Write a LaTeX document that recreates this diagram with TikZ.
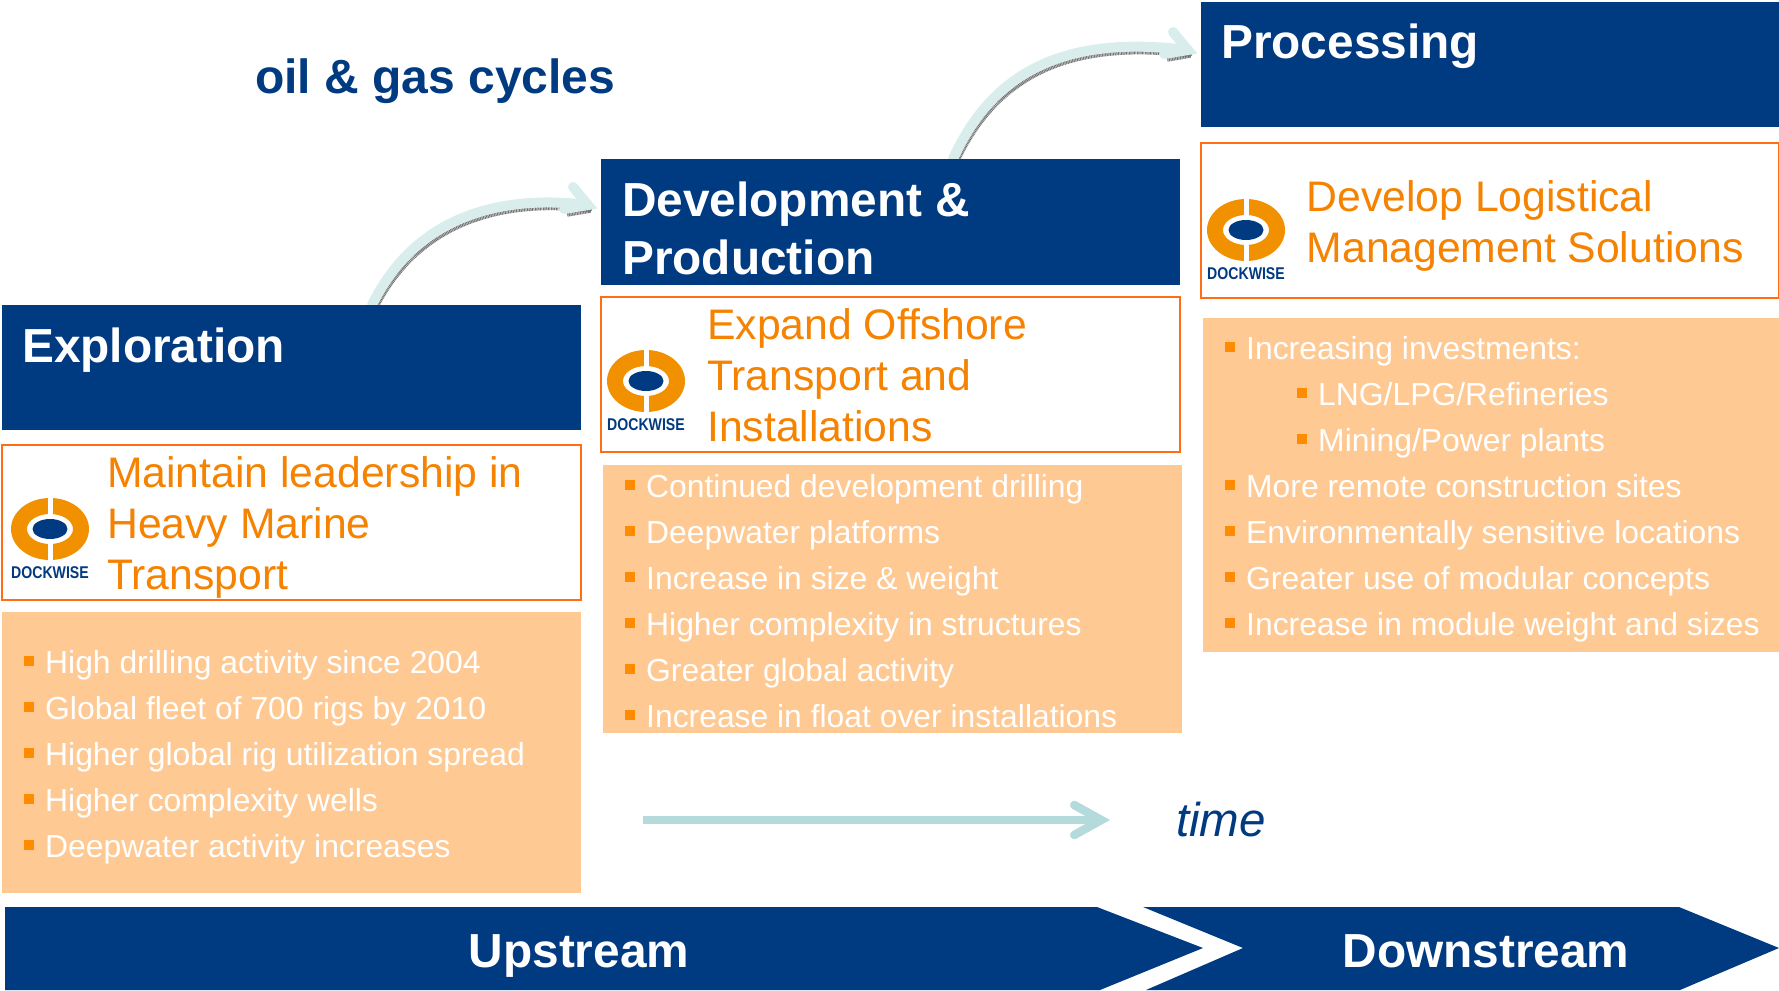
\documentclass[tikz,border=0pt]{standalone}
\usepackage{fontspec}
\setmainfont{Liberation Sans}
\usetikzlibrary{arrows.meta,calc}
\definecolor{navy}{HTML}{003A80}
\definecolor{peach}{HTML}{FFC993}
\definecolor{outl}{HTML}{FF6E14}
\definecolor{orangetxt}{HTML}{F58200}
\definecolor{bul}{HTML}{FF8C00}
\definecolor{teal1}{HTML}{DAEDED}
\definecolor{teal2}{HTML}{B5DADB}
\definecolor{ringc}{HTML}{F29100}
\newcommand{\bul}{\makebox[21pt][l]{\textcolor{bul}{\raisebox{7pt}{\rule{10pt}{10pt}}}}}
\newcommand{\stepcurve}[6]{
  \draw[curveback] ([shift={(3,6)}]#1) .. controls +(#3) and +(#4) .. ([shift={(3,6)}]#2);
  \draw[curveback,line join=miter] ([shift={(3,6)}]#2)+(#5) -- ([shift={(3,6)}]#2) -- +(#6);
  \draw[curvefront] (#1) .. controls +(#3) and +(#4) .. (#2);
  \draw[curvefront,line join=miter] ($(#2)+(#5)$) -- (#2) -- +(#6);
}
\tikzset{
  headbox/.style={fill=navy,inner sep=0pt},
  headtext/.style={anchor=base west,inner sep=0pt,text=white,align=left,font=\fontsize{47.8}{58}\selectfont\bfseries},
  goaltext/.style={anchor=base west,inner sep=0pt,text=orangetxt,align=left,font=\fontsize{42.7}{51}\selectfont},
  goalbox/.style={draw=outl,line width=2pt,fill=white,inner sep=0pt},
  listbox/.style={fill=peach,inner sep=0pt},
  listline/.style={anchor=base west,inner sep=0pt,text=white,font=\fontsize{31.85}{46}\selectfont},
  flowtext/.style={anchor=base,inner sep=0pt,text=white,font=\fontsize{47.8}{58}\selectfont\bfseries},
  curvefront/.style={draw=teal1,line width=10pt,line cap=round},
  curveback/.style={draw=black!55,line width=3.5pt,dash pattern=on 1pt off .6pt},
  dockwise/.pic={
    \fill[ringc,even odd rule] (0,0) circle [x radius=39,y radius=31] (0,0) circle [x radius=23,y radius=15];
    \fill[white] (-2.5,-32) rectangle (2.5,-13);
    \fill[white] (-2.5,13) rectangle (2.5,32);
    \fill[navy] (0,0) circle [x radius=17.5,y radius=10];
    \node[inner sep=0pt,text=navy,xscale=.83,font=\fontsize{17}{17}\selectfont\bfseries] (word) at (0,44) {DOCKWISE};
  }
}
\begin{document}
\begin{tikzpicture}[x=1pt,y=-1pt]
\useasboundingbox (0,0) rectangle (1779,990);

\coordinate (explOut) at (372,305);
\coordinate (devIn) at (588,205);
\coordinate (devOut) at (953,159);
\coordinate (procIn) at (1188,50);

\stepcurve{explOut}{devIn}{40,-82}{-98,-12}{-15,-18}{-24,4}
\stepcurve{devOut}{procIn}{47,-104}{-100,-12}{-15,-18}{-24,4}

\node[headbox,minimum width=579pt,minimum height=125pt] (explHead) at (291.5,367.5) {};
\node[headbox,minimum width=579pt,minimum height=126pt] (devHead) at (890.5,222) {};
\node[headbox,minimum width=578pt,minimum height=125pt] (procHead) at (1490,64.5) {};

\node[headtext] (explTitle) at (22,362) {Exploration};
\node[headtext] (devTitle) at (622,274.5) {Development \&\\Production};
\node[headtext] (procTitle) at (1221,59) {Processing};

\node[goalbox,minimum width=579pt,minimum height=155pt] (explGoal) at (291.5,522.5) {};
\node[goalbox,minimum width=579pt,minimum height=155pt] (devGoal) at (890.5,374.5) {};
\node[goalbox,minimum width=578pt,minimum height=155pt] (procGoal) at (1490,220.5) {};

\pic (explLogo) at (50,529) {dockwise};
\pic (devLogo) at (646,381) {dockwise};
\pic (procLogo) at (1246,230) {dockwise};

\node[goaltext] (explText) at (107,589) {Maintain leadership in\\Heavy Marine\\Transport};
\node[goaltext] (devText) at (707,441.5) {Expand Offshore\\Transport and\\Installations};
\node[goaltext] (procText) at (1306.5,262) {Develop Logistical\\Management Solutions};

\node[listbox,minimum width=579pt,minimum height=281pt] (explList) at (291.5,752.5) {};
\node[listbox,minimum width=579pt,minimum height=268pt] (devList) at (892.5,599) {};
\node[listbox,minimum width=576pt,minimum height=334pt] (procList) at (1491,485) {};

\foreach \i/\y/\txt in {1/673/High drilling activity since 2004,2/719/Global fleet of 700 rigs by 2010,3/765/Higher global rig utilization spread,4/811/Higher complexity wells,5/857/Deepwater activity increases}
  \node[listline] (explLine\i) at (24,\y) {\bul\txt};

\foreach \i/\y/\txt in {1/497/Continued development drilling,2/543/Deepwater platforms,3/589/Increase in size \& weight,4/635/Higher complexity in structures,5/681/Greater global activity,6/727/Increase in float over installations}
  \node[listline] (devLine\i) at (625,\y) {\bul\txt};

\foreach \i/\y/\txt in {1/359/Increasing investments:,4/497/More remote construction sites,5/543/Environmentally sensitive locations,6/589/Greater use of modular concepts,7/635/Increase in module weight and sizes}
  \node[listline] (procLine\i) at (1225,\y) {\bul\txt};
\foreach \i/\y/\txt in {2/405/{LNG/LPG/Refineries},3/451/{Mining/Power plants}}
  \node[listline] (procLine\i) at (1297,\y) {\bul\txt};

\node[inner sep=0pt,anchor=base west,text=navy,font=\fontsize{48}{58}\selectfont\bfseries] (cycles) at (255,93) {oil \& gas cycles};

\coordinate (timeFrom) at (643,820);
\coordinate (timeTo) at (1110,820);
\draw[draw=teal2,line width=8.5pt,-{Straight Barb[length=27pt,width=30pt,line cap=round,line join=miter]}] (timeFrom) -- (timeTo);
\node[inner sep=0pt,anchor=base west,text=navy,font=\fontsize{47.5}{58}\selectfont\itshape] (time) at (1176,836) {time};

\fill[navy] (5,907) -- (1097,907) -- (1203,948) -- (1100,990) -- (5,990) -- cycle;
\fill[navy] (1143,907) -- (1679,907) -- (1779,948) -- (1680,990) -- (1146,990) -- (1243,948) -- cycle;
\node[flowtext] (upstream) at (579,967) {Upstream};
\node[flowtext] (downstream) at (1486,967) {Downstream};
\end{tikzpicture}
\end{document}
